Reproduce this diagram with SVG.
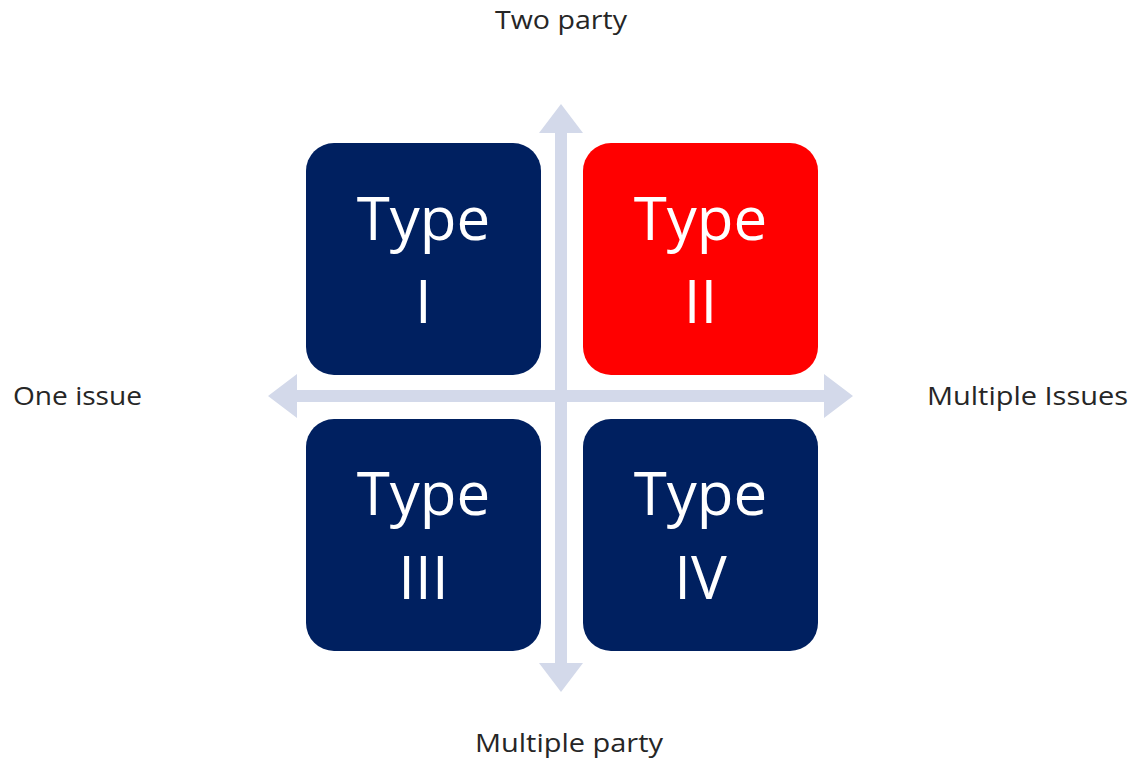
<svg xmlns="http://www.w3.org/2000/svg" width="1133" height="761" viewBox="0 0 1133 761">
  <style>
    .box { stroke: none; }
    .navy { fill: #002060; }
    .red { fill: #FF0000; }
    .type { font-family: "Open Sans", "Liberation Sans", sans-serif; font-size: 60px; fill: #FFFFFF; text-anchor: middle; }
    .label { font-family: "Open Sans", "Liberation Sans", sans-serif; font-size: 25px; fill: #262626; }
    .axis { fill: #D3D9EA; }
  </style>
  <rect width="1133" height="761" fill="#FFFFFF"/>

  <!-- double-headed axes -->
  <g id="connectors">
    <path class="axis" d="M561,104 L583,133 L567,133 L567,663 L583,663 L561,692 L539,663 L555,663 L555,133 L539,133 Z"/>
    <path class="axis" d="M268,396 L297,374 L297,390 L824,390 L824,374 L853,396 L824,418 L824,402 L297,402 L297,418 Z"/>
  </g>

  <g id="type-1">
    <rect class="box navy" x="306" y="143" width="235" height="232" rx="28"/>
    <text class="type" x="423.5" y="240">Type</text>
    <text class="type" x="423.5" y="323">I</text>
  </g>
  <g id="type-2">
    <rect class="box red" x="583" y="143" width="235" height="232" rx="28"/>
    <text class="type" x="700.5" y="240">Type</text>
    <text class="type" x="700.5" y="323">II</text>
  </g>
  <g id="type-3">
    <rect class="box navy" x="306" y="419" width="235" height="232" rx="28"/>
    <text class="type" x="423.5" y="515">Type</text>
    <text class="type" x="423.5" y="599">III</text>
  </g>
  <g id="type-4">
    <rect class="box navy" x="583" y="419" width="235" height="232" rx="28"/>
    <text class="type" x="700.5" y="515">Type</text>
    <text class="type" x="700.5" y="599">IV</text>
  </g>

  <g id="label-top">
    <text class="label" x="495" y="29" textLength="132" lengthAdjust="spacingAndGlyphs">Two party</text>
  </g>
  <g id="label-left">
    <text class="label" x="13" y="405" textLength="129" lengthAdjust="spacingAndGlyphs">One issue</text>
  </g>
  <g id="label-right">
    <text class="label" x="927" y="405" textLength="201" lengthAdjust="spacingAndGlyphs">Multiple Issues</text>
  </g>
  <g id="label-bottom">
    <text class="label" x="475" y="752" textLength="188" lengthAdjust="spacingAndGlyphs">Multiple party</text>
  </g>
</svg>
